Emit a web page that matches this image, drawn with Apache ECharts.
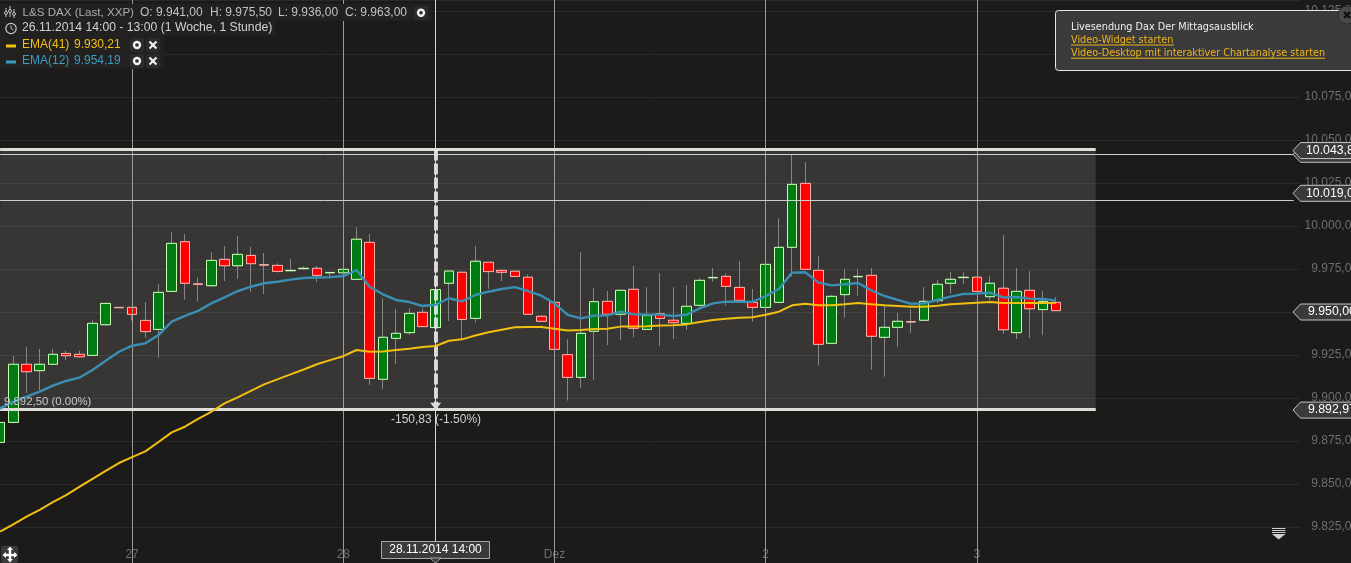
<!DOCTYPE html>
<html><head><meta charset="utf-8">
<style>html,body{margin:0;padding:0;background:#1c1b1a;overflow:hidden}#c{width:1351px;height:563px}</style>
<script src="https://cdn.jsdelivr.net/npm/echarts@6/dist/echarts.min.js"></script>
</head><body><div id="c"></div>
<script>
const opens=[9874.2,9885.8,9919.6,9915.9,9919.6,9925.9,9925.4,9924.8,9942.6,9952.7,9952.7,9945.1,9939.9,9962,9990.9,9966.3,9965.3,9980.6,9976.9,9982.9,9977.5,9977.1,9974,9975.2,9975.4,9972.8,9972.8,9969,9990.5,9910.9,9934.7,9938,9949.8,9941,9966.7,9973.1,9946.3,9978.9,9974.2,9973.7,9970.2,9947.5,9955.6,9925.2,9912,9938.8,9956.2,9948.7,9963.2,9939.9,9949,9945.2,9943.4,9953.9,9969.9,9970.7,9964.3,9955.6,9952.7,9955.6,9987.6,10024.8,9974.2,9931.8,9960.1,9970.5,9971.3,9935.3,9941.1,9944.4,9945.2,9956.6,9966.7,9970,9970.2,9958.9,9963.8,9938,9962.6,9951.4,9955.6];
const closes=[9885.8,9919.6,9915.3,9919.6,9925.4,9924.6,9924,9943.4,9955,9952.5,9948.6,9938.6,9961.4,9989.9,9966.7,9966.1,9980,9976.9,9983.5,9978.1,9977.3,9973.6,9974.2,9975.4,9971.3,9973,9974.8,9992.3,9911.4,9935.3,9937.6,9949.2,9941.5,9963,9973.8,9945.7,9979.5,9973.5,9973.1,9970.7,9948.7,9944.6,9928.3,9912,9937.6,9956,9948.7,9962.6,9940.5,9947.9,9946.3,9943.8,9953.3,9968.4,9970.1,9964.9,9956.8,9952.7,9977.7,9987.6,10024.2,9974.8,9931.2,9959.1,9969,9970.7,9935.9,9941.1,9944.6,9944.2,9956.2,9966.1,9969,9970.2,9962,9966.7,9939.7,9962,9951.9,9956.2,9950.8];
const lows=[9869.8,9885.3,9903.1,9904.6,9919.6,9922.1,9923.4,9924.8,9942.6,9952.5,9945,9935.1,9923.4,9962,9957.2,9956,9964.7,9968,9969.2,9961.8,9960.4,9972.9,9973.6,9974.8,9967.4,9969.4,9960.8,9969,9907.6,9905.2,9919.8,9936.6,9941.5,9936,9944.8,9933.7,9944,9963.4,9968,9970.7,9948.7,9944.2,9928.3,9898.5,9906,9910.5,9930.8,9933.7,9935.3,9939.9,9930.2,9934.3,9939.5,9953.1,9967.6,9953.7,9956.8,9944.4,9952.7,9955.6,9970.5,9974.8,9918.8,9931.8,9946.7,9959.5,9916.5,9912.4,9929.8,9938,9945.2,9955,9960.5,9966.3,9962,9957,9937.2,9934.3,9934.9,9936.6,9950.8];
const highs=[9903.7,9924.4,9929.6,9928.5,9928.5,9927.5,9927.5,9945.3,9955,9952.7,9952.7,9955.8,9966.3,9996.5,9995.3,9970.1,9984.7,9988.4,9994.2,9987.8,9984.3,9978.3,9980.8,9976.5,9976.7,9973,9977.9,9999.2,9995.4,9958,9951.8,9952.1,9952.1,9975.5,9973.8,9973.1,9988.4,9978.9,9974.6,9974.4,9971.9,9948.3,9956,9934.1,9984.7,9963.8,9962.2,9963.2,9976.8,9964.4,9972.5,9964.4,9965.7,9969.6,9975.6,9972.5,9979.6,9963.4,9977.7,10004.6,10041.5,10037.2,9982.6,9959.9,9975,9975,9975.6,9954.1,9949.4,9951.7,9964.5,9968.6,9973.3,9973.1,9970.2,9971.1,9994.8,9975.6,9973.8,9962.2,9958.7];
const ema12=[9894,9897.9,9900.8,9903.7,9907.2,9909.9,9911.8,9916.3,9921.7,9926.9,9930.4,9931.8,9936.6,9944.4,9947.8,9950.6,9955,9958.5,9962.2,9964.7,9966.7,9967.6,9968.8,9969.8,9970.1,9970.3,9970.9,9974.4,9964.7,9960.3,9957,9955.8,9953.5,9954.19,9958,9956.2,9959.9,9961.8,9963.4,9964.5,9962.2,9959.5,9955,9948.3,9946.3,9947.9,9948.1,9950.2,9948.7,9948.5,9948.5,9947.7,9948.4,9952.1,9955,9956,9956,9955.8,9959.3,9963.4,9972.9,9973.1,9967.1,9965.5,9966.1,9966.9,9962.6,9959.3,9957,9954.8,9955,9957,9958.9,9960.5,9960.7,9961.2,9958.5,9958.7,9957.8,9957.6,9956.6];
const ema41=[9822.3,9826.5,9831,9835,9839.5,9843.5,9848.3,9853,9857.6,9862.2,9865.6,9869,9874.4,9880,9883.3,9887.8,9892,9896.9,9900.4,9904.2,9907.9,9910.8,9913.7,9916.6,9919.6,9922,9924.3,9927.9,9926.9,9927.1,9927.9,9928.7,9929.7,9930.21,9933.3,9934.1,9936.3,9938.2,9939.7,9941.1,9941.3,9941.3,9940.3,9939.3,9939.5,9940.1,9940.3,9941.5,9941.5,9941.7,9942.1,9942.3,9942.8,9944.2,9945.3,9946.1,9946.7,9946.9,9948.4,9950.2,9953.9,9954.8,9953.9,9953.9,9954.5,9955.2,9954.5,9953.9,9953.5,9953.1,9953.1,9953.7,9954.5,9955,9955.4,9955.8,9955.2,9955.2,9955.2,9955.2,9955.4];
const dayIndex=[10,26,42,58,74];
const dayLabels=['27','28','Dez','2','3'];
const cursorIndex=33, boxEndIndex=83, lineEndIndex=98, slotCount=99;
const boxTop=10044.5, boxBottom=9893.2, thinLevels=[10041.7,10015.1];
const tagValues=[10041.7,10043.87,10019.02,9950,9892.97];
const yTicks={min:9800,max:10131.4,interval:25};

const cats=Array.from({length:slotCount},(_,i)=>{const k=dayIndex.indexOf(i);return k>=0?dayLabels[k]:''});
const fmt=v=>{const s=v.toFixed(2).replace('.',',');const p=s.split(',');return p[0].replace(/\B(?=(\d{3})+$)/g,'.')+','+p[1]};
const wick=opens.map((o,i)=>[o,closes[i],lows[i],highs[i]]);
const body=opens.map((o,i)=>[o,closes[i],Math.min(o,closes[i]),Math.max(o,closes[i])]);
const FONT='"Liberation Sans",Arial,sans-serif';
const chart=echarts.init(document.getElementById('c'),null,{renderer:'canvas'});
const vLine=(i,c)=>({xAxis:i,lineStyle:{color:c,width:1,type:'solid'},label:{show:false}});
chart.setOption({
 animation:false,backgroundColor:'#1c1b1a',
 grid:{left:-6.5,top:0,width:1306.8,height:570,containLabel:false,outerBoundsMode:'none'},
 xAxis:{type:'category',data:cats,boundaryGap:true,axisLine:{show:false},axisTick:{show:false},splitLine:{show:false},
  axisLabel:{inside:true,interval:0,margin:9,color:'#6e6e6e',fontSize:12,fontFamily:FONT,hideOverlap:false}},
 yAxis:{type:'value',position:'right',min:yTicks.min,max:yTicks.max,interval:yTicks.interval,axisLine:{show:false},axisTick:{show:false},
  splitLine:{show:true,lineStyle:{color:'#2b2a29',width:1}},
  axisLabel:{show:true,margin:57.7,align:'right',showMaxLabel:false,showMinLabel:false,color:'#6e6e6e',fontSize:12,fontFamily:FONT,padding:[0,0,4,0],
   formatter:v=>(v%25===0?fmt(v):'')}},
 series:[
  {name:'Range',type:'line',z:1,data:[],silent:true,
   markArea:{silent:true,itemStyle:{color:'rgba(255,252,248,0.12)'},data:[[{xAxis:0,yAxis:boxTop},{xAxis:boxEndIndex,yAxis:boxBottom}]]},
   markLine:{silent:true,symbol:'none',animation:false,label:{show:false},data:dayIndex.map(i=>vLine(i,'#9a9a9a')).concat([vLine(cursorIndex,'#d8d8d8')])}},
  {name:'Range0',type:'line',z:2,data:[],silent:true,
   markLine:{silent:true,symbol:'none',animation:false,label:{show:false},lineStyle:{color:'#cfcfcf',width:1,type:'solid'},
    data:thinLevels.map(v=>[{xAxis:0,yAxis:v},{xAxis:lineEndIndex,yAxis:v}])}},
  {name:'Wicks',type:'candlestick',z:3,data:wick,barWidth:10,silent:true,
   itemStyle:{color:'rgba(0,0,0,0)',color0:'rgba(0,0,0,0)',borderColor:'#868686',borderColor0:'#868686',borderWidth:1}},
  {name:'L&S DAX',type:'candlestick',z:4,data:body,barWidth:10,silent:true,
   itemStyle:{color:'#007a12',color0:'#ff0000',borderColor:'#c4ffb0',borderColor0:'#ffb0a8',borderWidth:1}},
  {name:'EMA(41)',type:'line',z:5,data:ema41,symbol:'none',silent:true,lineStyle:{color:'#f2c011',width:2}},
  {name:'EMA(12)',type:'line',z:6,data:ema12,symbol:'none',silent:true,lineStyle:{color:'#3a8fb2',width:2.4}},
  {name:'Levels',type:'line',z:7,data:[],silent:true,
   markLine:{silent:true,animation:false,label:{show:false},data:[
     [{xAxis:0,yAxis:boxTop,symbol:'none',lineStyle:{color:'#dcdcd8',width:3,type:'solid'}},{xAxis:boxEndIndex,yAxis:boxTop,symbol:'none'}],
     [{xAxis:0,yAxis:boxBottom,symbol:'none',lineStyle:{color:'#dcdcd8',width:3,type:'solid'}},{xAxis:boxEndIndex,yAxis:boxBottom,symbol:'none'}],
     [{xAxis:cursorIndex,yAxis:boxTop,symbol:'none',lineStyle:{color:'#e4e4e4',width:4,type:[11,3],opacity:.9}},{xAxis:cursorIndex,yAxis:boxBottom,symbol:'none'}]
   ]}}
 ]
});
// overlay
const T=(x,y,t,c,s,o)=>({type:'text',z:100,x,y,silent:true,style:Object.assign({text:t,fill:c,font:`${s||12}px ${FONT}`,verticalAlign:'middle',align:'left'},o||{})});
const R=(x,y,w,h,f,o)=>({type:'rect',z:o&&o.z||99,silent:true,shape:{x,y,width:w,height:h,r:o&&o.r||0},style:{fill:f,stroke:o&&o.stroke||null,lineWidth:1}});
const P=(pts,f,st,z)=>({type:'polygon',z:z||100,silent:true,shape:{points:pts},style:{fill:f,stroke:st||null,lineWidth:1}});
const L=(x1,y1,x2,y2,c,w,z)=>({type:'line',z:z||100,silent:true,shape:{x1,y1,x2,y2},style:{stroke:c,lineWidth:w||1}});
const C=(cx,cy,r,f,st,w,z)=>({type:'circle',z:z||100,silent:true,shape:{cx,cy,r},style:{fill:f,stroke:st||null,lineWidth:w||1}});
const g=[];
// legend rows
g.push(R(0,4,432,17,'#222120'),R(0,20,275,16,'#222120'),R(0,36,164,16,'#222120'),R(0,52,164,17,'#222120'));
g.push(T(22.5,12.3,'L&S DAX (Last, XXP)','#adadad',11.6),T(140,12.3,'O: 9.941,00','#c2c2c2'),T(210,12.3,'H: 9.975,50','#c2c2c2'),T(278,12.3,'L: 9.936,00','#c2c2c2'),T(345,12.3,'C: 9.963,00','#c2c2c2'));
g.push(T(22,28,'26.11.2014 14:00 - 13:00 (1 Woche, 1 Stunde)','#d2d2d2',12.2));
g.push(T(22,44.3,'EMA(41)','#f2c011'),T(74,44.3,'9.930,21','#f2c011'),T(22,60.5,'EMA(12)','#3a9cc4'),T(74,60.5,'9.954,19','#3a9cc4'));
g.push(R(6,44.5,10,3,'#f2c011'),R(6,60.5,10,3,'#3a9cc4'));
// chart glyph + clock
[[6,10,16],[10,8,16],[14,11,17]].forEach(a=>{g.push(L(a[0],a[1]-2,a[0],a[2]+1,'#c8c8c8',1),C(a[0],a[1]+3,1.5,'#1c1b1a','#c8c8c8',1))});
g.push(C(11,28.5,5.2,null,'#c8c8c8',1.2),L(11,25.5,11,28.5,'#c8c8c8',1),L(11,28.5,13.5,30,'#c8c8c8',1));
// small buttons
const ring=(x,y)=>{g.push(R(x-7,y-7,14,14,'#2c2b2a',{r:2}),C(x,y,3,null,'#f0f0f0',2.4))};
const cross=(x,y)=>{g.push(R(x-7,y-7,14,14,'#2c2b2a',{r:2}),L(x-3.5,y-3.5,x+3.5,y+3.5,'#f0f0f0',2.2),L(x-3.5,y+3.5,x+3.5,y-3.5,'#f0f0f0',2.2))};
ring(421,12.7);ring(137,45);cross(153,45);ring(137,61);cross(153,61);
// video panel
g.push(R(1055.5,10.5,320,60,'#3b3b3b',{stroke:'#e6e6e6',r:3,z:101}));
const PF='"DejaVu Sans",sans-serif';
g.push({type:'text',z:102,x:1071,y:27.5,silent:true,style:{text:'Livesendung Dax Der Mittagsausblick',fill:'#f0f0f0',font:`9.7px ${PF}`,verticalAlign:'middle'}});
[['Video-Widget starten',40.5,103],['Video-Desktop mit interaktiver Chartanalyse starten',53.7,254]].forEach(a=>{
 g.push({type:'text',z:102,x:1071,y:a[1],silent:true,style:{text:a[0],fill:'#f0b41c',font:`9.7px ${PF}`,verticalAlign:'middle'}},L(1071,a[1]+4.5,1071+a[2],a[1]+4.5,'#f0b41c',1,102));
});
g.push(C(1347,15,9,'#4a4a4a','#2a2a2a',1,103),L(1344,12,1350,18,'#111',2.4,104),L(1344,18,1350,12,'#111',2.4,104));
// annotation texts
g.push(T(4,402,'9.892,50 (0.00%)','#c8c8c8',11.4),T(391,420,'-150,83 (-1.50%)','#d2d2d2'));
// cursor date box
g.push(R(381.5,541.5,108,17,'#3a3a3a',{stroke:'#a8a8a8',z:101}),{type:'text',z:102,x:435.5,y:550,silent:true,style:{text:'28.11.2014 14:00',fill:'#ffffff',font:`12px ${FONT}`,align:'center',verticalAlign:'middle'}},P([[430,558],[441,558],[435.5,563]],'#3a3a3a','#a8a8a8',101));
// arrow at end of cursor dashes
const cursorPx=chart.convertToPixel({xAxisIndex:0},cursorIndex);
const botPx=chart.convertToPixel({yAxisIndex:0},boxBottom);
g.push(P([[cursorPx-5.5,botPx-7],[cursorPx+5.5,botPx-7],[cursorPx,botPx]],'#dcdcdc'));
// price tags
tagValues.forEach((v,i)=>{
 const y=chart.convertToPixel({yAxisIndex:0},v);
 g.push(P([[1293,y],[1300.5,y-8],[1356,y-8],[1356,y+8],[1300.5,y+8]],'#3a3a3a','#c6c6c6',100+i));
 if(i>0)g.push({type:'text',z:100+i,x:v>=10000?1306:1308,y:y,silent:true,style:{text:fmt(v),fill:'#ffffff',font:`12.3px ${FONT}`,verticalAlign:'middle'}});
});
// move and scroll glyphs
g.push(R(1,546,17,17,'#3a3a3a',{r:2}));
g.push(L(10,549,10,561,'#fff',2.4),L(4,555,16,555,'#fff',2.4),P([[10,546.5],[7,550],[13,550]],'#fff'),P([[10,562.5],[7,559],[13,559]],'#fff'),P([[2.5,555],[6,552],[6,558]],'#fff'),P([[17.5,555],[14,552],[14,558]],'#fff'));
g.push(L(1272,528.5,1285.5,528.5,'#cfcfcf',1),L(1272,530.5,1285.5,530.5,'#cfcfcf',1),L(1272,532.5,1285.5,532.5,'#cfcfcf',1),P([[1272,534],[1285.5,534],[1278.7,539.5]],'#cfcfcf'));
chart.setOption({graphic:{elements:g}});
</script></body></html>
